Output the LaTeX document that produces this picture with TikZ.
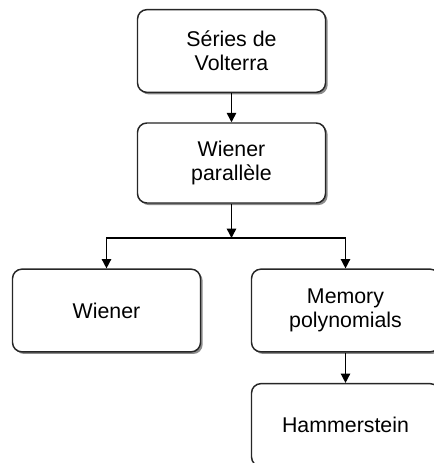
\documentclass[tikz,border=0pt]{standalone}
\usepackage{fontspec}
\setmainfont{Liberation Sans}
\usetikzlibrary{arrows.meta,shadows}

\tikzset{every picture/.style={line width=1.1pt}}
\tikzset{
  block/.style={draw=black!85, fill=white, rounded corners=7pt,
                minimum width=141pt, minimum height=#1,
                align=center, inner sep=2pt,
                font=\fontsize{16}{18}\selectfont,
                drop shadow={shadow xshift=1.6pt, shadow yshift=-1.6pt,
                             fill=black!45, opacity=1}},
  block/.default={62pt}, % default height of a box
  link/.style={-{Triangle[length=7pt,width=7pt]}},
}

\begin{document}
\begin{tikzpicture}[x=0.75pt, y=-0.75pt]
  \useasboundingbox (0,0) rectangle (434,463);
  % boxes
  \node[block] (volterra) at (231.5,51) {Séries de\\Volterra};
  \node[block=60pt] (parallele) at (231.5,163) {Wiener\\parallèle};
  \node[block] (wiener) at (106.5,310.5) {Wiener};
  \node[block] (memory) at (345.5,310.5) {Memory\\polynomials};
  \node[block] (hammer) at (345.5,425) {Hammerstein};
  % split point
  \coordinate (split) at (231.5,238);
  % connect boxes
  \draw[link] (volterra) -- (parallele);
  \draw[link] (parallele) -- (split);
  \draw[link] (split) -| (wiener);
  \draw[link] (split) -| (memory);
  \draw[link] (memory) -- (hammer);
\end{tikzpicture}
\end{document}
